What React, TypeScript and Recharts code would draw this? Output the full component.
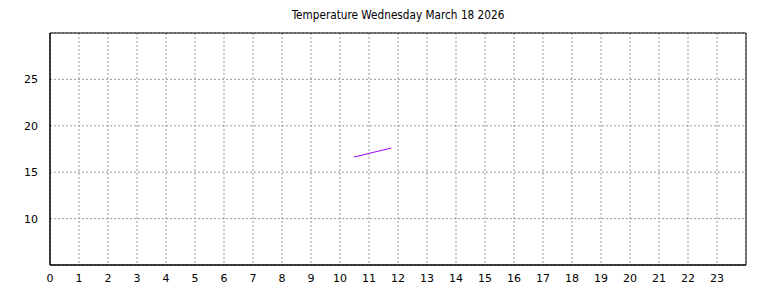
import { LineChart, Line, XAxis, YAxis, CartesianGrid, ReferenceArea } from 'recharts';

const title = 'Temperature Wednesday March 18 2026';

// hour of day, temperature reading
const hours = [10.48, 11.1, 11.77];
const temps = [16.63, 17.1, 17.6];

const hourTicks = Array.from({ length: 24 }, (_, i) => i);
const tempTicks = [10, 15, 20, 25];

const data = hours.map((h, i) => ({ hour: h, temp: temps[i] }));

const tickStyle = { fill: '#000', fontSize: 11, fontFamily: 'DejaVu Sans, sans-serif' };

export default function App() {
    return (
        <div style={{ position: 'absolute', left: 0, top: 0, width: 768, height: 288, background: '#fff' }}>
            <div
                style={{
                    position: 'absolute',
                    left: 50,
                    width: 696,
                    top: 8,
                    textAlign: 'center',
                    fontFamily: '"DejaVu Sans Condensed", "DejaVu Sans", sans-serif',
                    fontSize: 11.7,
                    color: '#000',
                }}
            >
                {title}
            </div>
            <LineChart width={768} height={288} data={data} margin={{ top: 33, right: 22, bottom: 0, left: 0 }}>
                <CartesianGrid stroke="#999" strokeDasharray="2 2" />
                <XAxis
                    type="number"
                    dataKey="hour"
                    domain={[0, 24]}
                    ticks={hourTicks}
                    interval={0}
                    height={23}
                    tickLine={false}
                    tickMargin={3}
                    axisLine={{ stroke: '#000', strokeWidth: 1 }}
                    tick={tickStyle}
                />
                <YAxis
                    type="number"
                    domain={[5, 30]}
                    ticks={tempTicks}
                    width={50}
                    tickLine={false}
                    tickMargin={6}
                    axisLine={{ stroke: '#000', strokeWidth: 1 }}
                    tick={tickStyle}
                />
                {/* plot frame */}
                <ReferenceArea x1={0} x2={24} y1={5} y2={30} fill="none" stroke="#000" strokeWidth={1} ifOverflow="visible" />
                <Line
                    dataKey="temp"
                    stroke="#a000ff"
                    strokeWidth={1}
                    dot={false}
                    isAnimationActive={false}
                />
            </LineChart>
        </div>
    );
}
